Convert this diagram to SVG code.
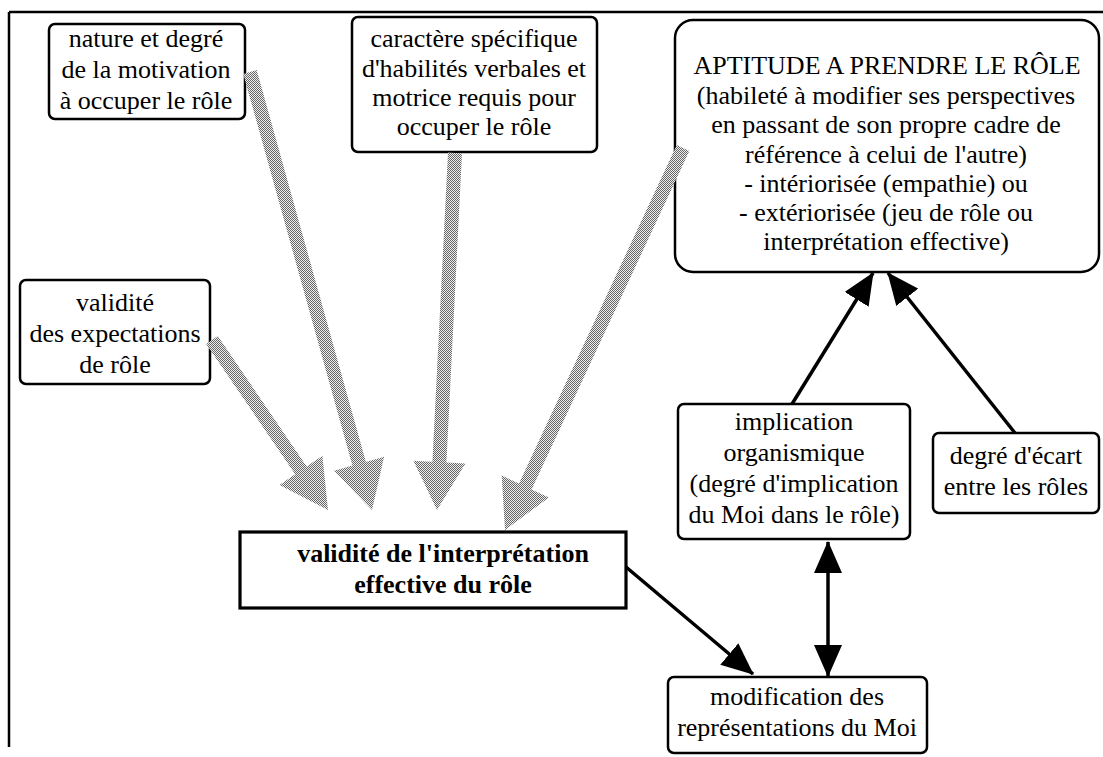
<svg xmlns="http://www.w3.org/2000/svg" width="1103" height="757" viewBox="0 0 1103 757">
  <defs>
    <pattern id="stip" width="2" height="2" patternUnits="userSpaceOnUse">
      <rect x="0" y="0" width="2" height="2" fill="#eeeeee"/>
      <rect x="0" y="0" width="1" height="1" fill="#666666"/>
      <rect x="1" y="1" width="1" height="1" fill="#666666"/>
    </pattern>
    <marker id="head" markerUnits="userSpaceOnUse" markerWidth="32" markerHeight="28" refX="31" refY="14" orient="auto-start-reverse" viewBox="0 0 32 28">
      <path d="M0,0 L32,14 L0,28 z" fill="#000"/>
    </marker>
  </defs>
  <style>
    .box { fill: #fff; stroke: #000; stroke-width: 2.5; }
    .main { fill: #fff; stroke: #000; stroke-width: 3.2; }
    .t { font-family: "Liberation Serif", "Times New Roman", serif; font-size: 26px; fill: #000; text-anchor: middle; }
    .b { font-weight: bold; }
    .conn { stroke: #000; stroke-width: 3.5; fill: none; }
    .gray { fill: url(#stip); stroke: none; }
  </style>
  <rect width="1103" height="757" fill="#fff"/>
  <g id="frame">
    <line x1="9" y1="12" x2="1103" y2="12" stroke="#000" stroke-width="2.5"/>
    <line x1="9" y1="12" x2="9" y2="747" stroke="#000" stroke-width="2.5"/>
  </g>

  <g id="n-motivation">
    <rect class="box" x="49" y="24" width="196" height="95" rx="6"/>
    <text class="t" x="146" y="47">nature et degré</text>
    <text class="t" x="146" y="78">de la motivation</text>
    <text class="t" x="146" y="109">à occuper le rôle</text>
  </g>
  <g id="n-habiletes">
    <rect class="box" x="352" y="17" width="245" height="135" rx="6"/>
    <text class="t" x="474" y="47">caractère spécifique</text>
    <text class="t" x="474" y="77">d'habilités verbales et</text>
    <text class="t" x="474" y="106">motrice requis pour</text>
    <text class="t" x="474" y="135">occuper le rôle</text>
  </g>
  <g id="n-aptitude">
    <rect class="box" x="675" y="20" width="424" height="252" rx="18"/>
    <text class="t" x="887" y="74">APTITUDE A PRENDRE LE RÔLE</text>
    <text class="t" x="886" y="104">(habileté à modifier ses perspectives</text>
    <text class="t" x="886" y="133">en passant de son propre cadre de</text>
    <text class="t" x="886" y="163">référence à celui de l'autre)</text>
    <text class="t" x="886" y="192">- intériorisée (empathie) ou</text>
    <text class="t" x="886" y="221">- extériorisée (jeu de rôle ou</text>
    <text class="t" x="886" y="250">interprétation effective)</text>
  </g>
  <g id="n-expectations">
    <rect class="box" x="20" y="280" width="190" height="104" rx="6"/>
    <text class="t" x="115" y="311">validité</text>
    <text class="t" x="115" y="342">des expectations</text>
    <text class="t" x="115" y="373">de rôle</text>
  </g>
  <g id="n-validite">
    <rect class="main" x="240" y="532" width="386" height="76"/>
    <text class="t b" x="443" y="562">validité de l'interprétation</text>
    <text class="t b" x="443" y="593">effective du rôle</text>
  </g>
  <g id="n-implication">
    <rect class="box" x="678" y="404" width="232" height="135" rx="6"/>
    <text class="t" x="794" y="430">implication</text>
    <text class="t" x="794" y="461">organismique</text>
    <text class="t" x="794" y="492">(degré d'implication</text>
    <text class="t" x="794" y="523">du Moi dans le rôle)</text>
  </g>
  <g id="n-ecart">
    <rect class="box" x="933" y="433" width="166" height="80" rx="6"/>
    <text class="t" x="1016" y="464">degré d'écart</text>
    <text class="t" x="1016" y="495">entre les rôles</text>
  </g>
  <g id="n-modification">
    <rect class="box" x="668" y="677" width="259" height="76" rx="6"/>
    <text class="t" x="797" y="705">modification des</text>
    <text class="t" x="797" y="736">représentations du Moi</text>
  </g>

  <g id="connectors">
    <polygon class="gray" points="206.2,343.9 295.2,474.3 279.5,485.0 328,510 322.4,455.7 306.7,466.4 217.8,336.1"/>
    <polygon class="gray" points="243.3,73.9 352.4,465.6 334.1,470.7 372,510 384.1,456.8 365.9,461.9 256.7,70.1"/>
    <polygon class="gray" points="448.0,152.6 432.4,461.7 413.4,460.8 437,510 465.4,463.4 446.4,462.4 462.0,153.4"/>
    <polygon class="gray" points="676.7,145.0 519.0,483.5 501.7,475.5 505,530 548.9,497.5 531.6,489.5 689.3,151.0"/>
    <line class="conn" x1="792" y1="404" x2="873" y2="273" marker-end="url(#head)"/>
    <line class="conn" x1="1015" y1="433" x2="888" y2="273" marker-end="url(#head)"/>
    <line class="conn" x1="626" y1="567" x2="753" y2="674" marker-end="url(#head)"/>
    <line class="conn" x1="828" y1="542" x2="828" y2="676" marker-start="url(#head)" marker-end="url(#head)"/>
  </g>
</svg>
